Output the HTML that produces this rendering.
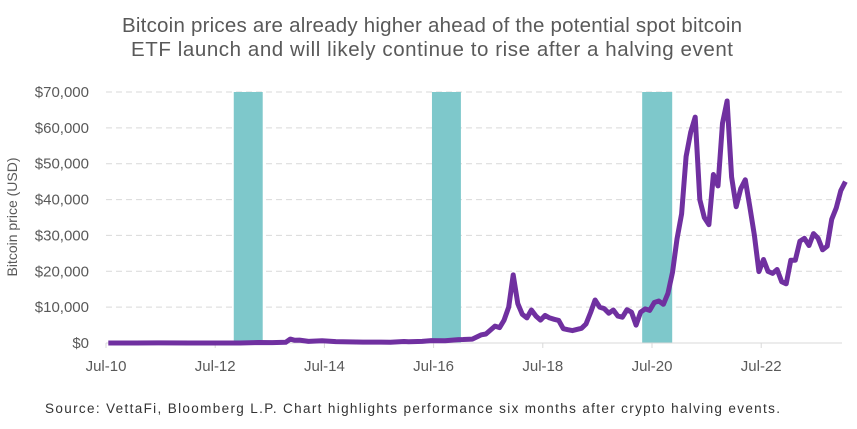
<!DOCTYPE html>
<html><head><meta charset="utf-8"><style>
body{margin:0;background:#fff;width:857px;height:424px;overflow:hidden;font-family:"Liberation Sans",sans-serif}
</style></head><body>
<svg width="857" height="424" xmlns="http://www.w3.org/2000/svg">
<text x="432" y="32" text-anchor="middle" font-size="20.5" fill="#595959" textLength="620" lengthAdjust="spacing">Bitcoin prices are already higher ahead of the potential spot bitcoin</text>
<text x="432" y="56" text-anchor="middle" font-size="20.5" fill="#595959" textLength="602" lengthAdjust="spacing">ETF launch and will likely continue to rise after a halving event</text>
<g id="grid"></g><g id="bands"></g><g id="axes"></g><g id="series"></g>
<text transform="translate(17,217) rotate(-90)" text-anchor="middle" font-size="14" fill="#595959">Bitcoin price (USD)</text>
<text x="45" y="413" font-size="13.5" fill="#333" textLength="735" lengthAdjust="spacing">Source: VettaFi, Bloomberg L.P. Chart highlights performance six months after crypto halving events.</text>
</svg>
<script>
const yTicks=[0,10000,20000,30000,40000,50000,60000,70000];
const yTickLabels=["$0","$10,000","$20,000","$30,000","$40,000","$50,000","$60,000","$70,000"];
const xTicks=[2010.5,2012.5,2014.5,2016.5,2018.5,2020.5,2022.5];
const xTickLabels=["Jul-10","Jul-12","Jul-14","Jul-16","Jul-18","Jul-20","Jul-22"];
const bandStarts=[2012.84,2016.47,2020.32];
const bandEnds=[2013.37,2017.0,2020.87];
const dates=["2010-07","2011-01","2011-06","2012-01","2012-06","2012-12","2013-01","2013-04","2013-07","2013-10","2013-11","2013-12","2014-01","2014-03","2014-06","2014-09","2014-12","2015-03","2015-06","2015-09","2015-12","2016-01","2016-04","2016-06","2016-09","2016-12","2017-01","2017-03","2017-05","2017-06","2017-08","2017-09","2017-10","2017-11","2017-12","2018-01","2018-02","2018-03","2018-04","2018-05","2018-06","2018-07","2018-08","2018-09","2018-10","2018-11","2018-12","2019-01","2019-02","2019-03","2019-04","2019-05","2019-06","2019-07","2019-08","2019-09","2019-10","2019-11","2019-12","2020-01","2020-02","2020-03","2020-04","2020-05","2020-06","2020-07","2020-08","2020-09","2020-10","2020-11","2020-12","2021-01","2021-02","2021-03","2021-04","2021-05","2021-06","2021-07","2021-08","2021-09","2021-10","2021-11","2021-12","2022-01","2022-02","2022-03","2022-04","2022-05","2022-06","2022-07","2022-08","2022-09","2022-10","2022-11","2022-12","2023-01","2023-02","2023-03","2023-04","2023-05","2023-06","2023-07","2023-08","2023-09","2023-10","2023-11","2023-12","2024-01"];
const prices=[0.1,0.3,15,6,6,13,20,140,100,200,1100,750,800,450,640,390,320,250,250,230,430,370,450,670,610,960,970,1080,2300,2500,4700,4300,6400,10000,19000,11000,8000,7000,9200,7500,6400,7700,7000,6600,6300,4000,3700,3450,3800,4100,5300,8500,12000,10000,9600,8300,9200,7500,7200,9300,8600,5000,8600,9500,9100,11300,11700,10800,13800,19700,29000,36000,52000,58800,63000,40000,35000,33000,47000,43800,61300,67500,46300,38000,43000,45500,38000,30000,19900,23300,20000,19400,20500,17100,16500,23100,23100,28400,29200,27200,30500,29200,26000,27000,34500,37700,42500,45000];
const NS="http://www.w3.org/2000/svg";
const X0=106,PXY=54.6,Y0=343,PXV=251/70000;
function xs(t){return X0+(t-2010.5)*PXY;}
function ys(v){return Y0-v*PXV;}
function dt(s){const p=s.split("-");return +p[0]+(+p[1]-0.5)/12;}
function mk(tag,attrs,parent){const e=document.createElementNS(NS,tag);for(const k in attrs)e.setAttribute(k,attrs[k]);document.getElementById(parent).appendChild(e);return e;}
const XR=842;
yTicks.forEach((v,i)=>{
  if(v>0){const l=mk("line",{x1:X0,x2:XR,y1:ys(v),y2:ys(v),stroke:"#d9d9d9","stroke-width":1,"stroke-dasharray":"6,4"},"grid");
  
  }
  const t=mk("text",{x:89,y:ys(v)+5,"text-anchor":"end","font-size":15,fill:"#595959"},"axes");
  t.textContent=yTickLabels[i];
  
  
});
bandStarts.forEach((s,i)=>{
  const r=mk("rect",{x:xs(s),y:ys(70000),width:xs(bandEnds[i])-xs(s),height:Y0-ys(70000),fill:"#7ec8cb"},"bands");
  
  
});
const ax=mk("line",{x1:X0,x2:XR,y1:Y0,y2:Y0,stroke:"#d9d9d9","stroke-width":1},"axes");


xTicks.forEach((t,i)=>{
  const tk=mk("line",{x1:xs(t),x2:xs(t),y1:Y0,y2:Y0+5,stroke:"#d9d9d9"},"axes");
  
  
  const l=mk("text",{x:xs(t),y:371,"text-anchor":"middle","font-size":15,fill:"#595959"},"axes");
  l.textContent=xTickLabels[i];
  
  
});
const d=dates.map((s,i)=>(i?"L":"M")+xs(dt(s)).toFixed(1)+","+ys(prices[i]).toFixed(1)).join("");
const p=mk("path",{d:d,fill:"none",stroke:"#7030a0","stroke-width":5,"stroke-linejoin":"round"},"series");


</script>
</body></html>
